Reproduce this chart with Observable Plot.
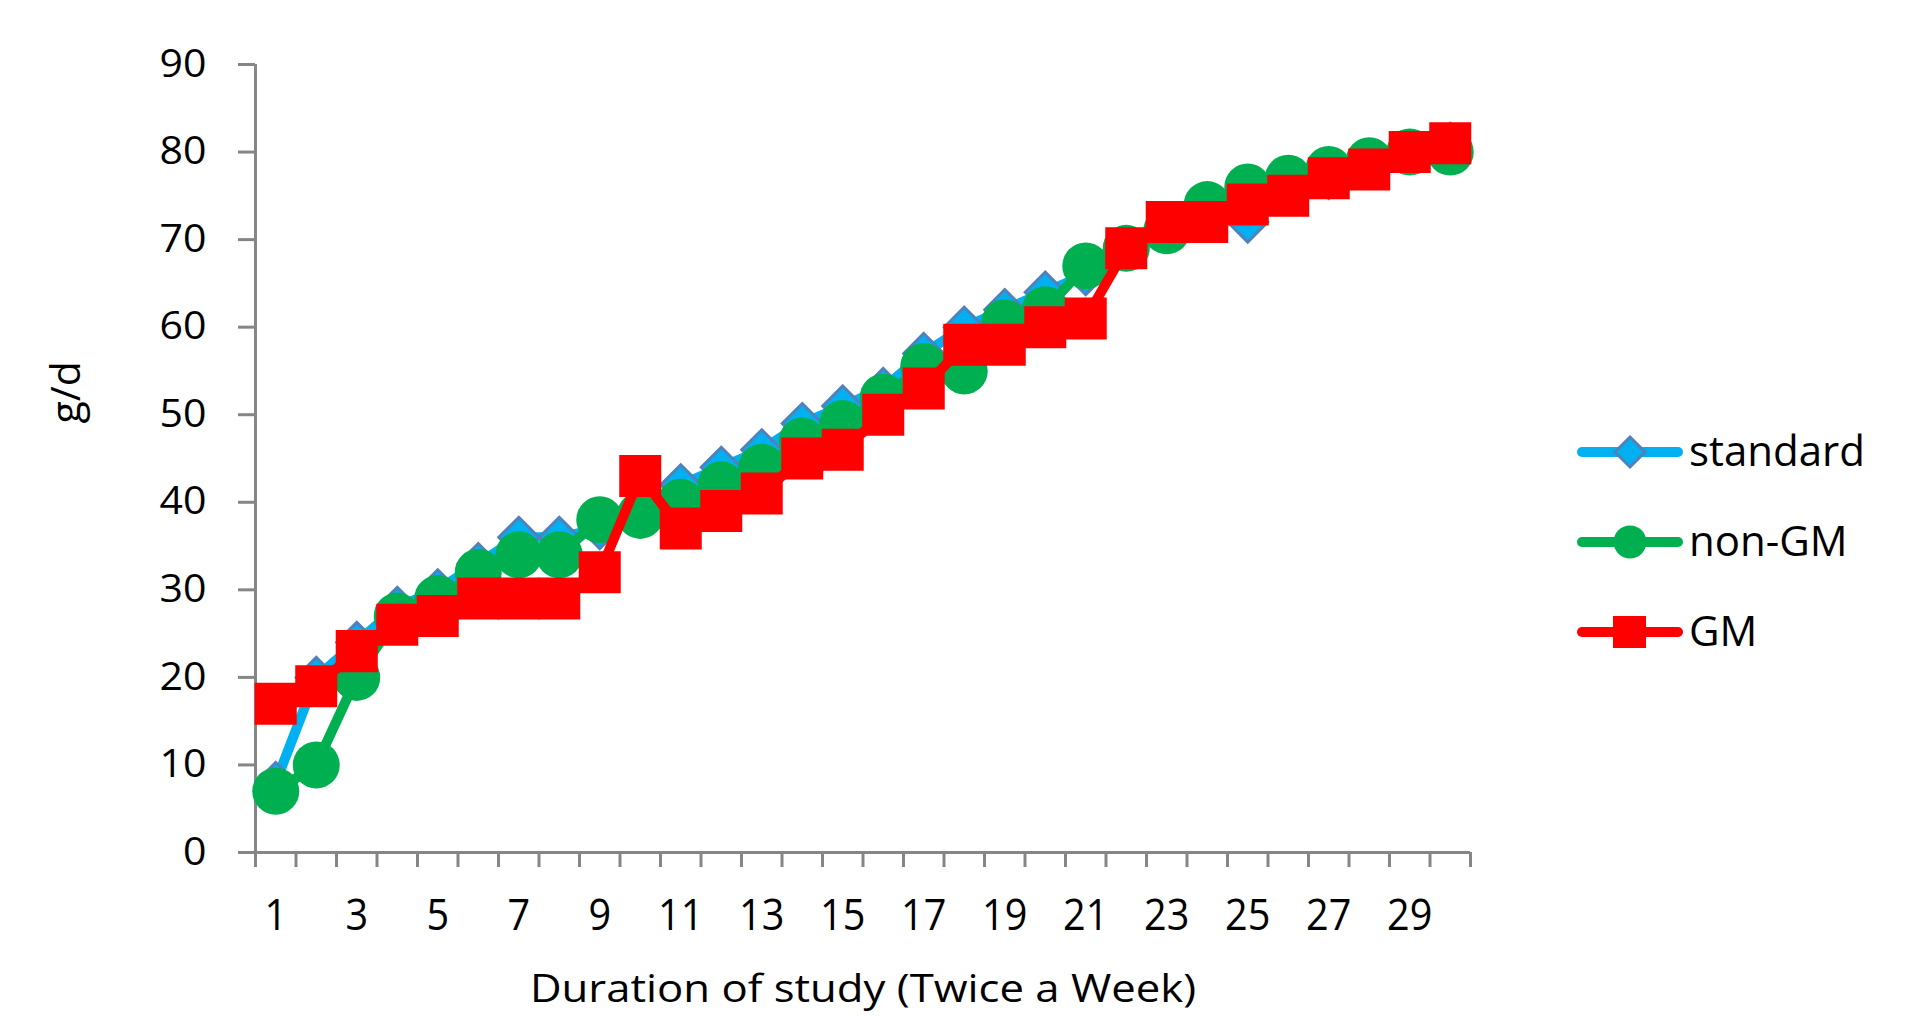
<!DOCTYPE html>
<html>
<head>
<meta charset="utf-8">
<script src="https://cdn.jsdelivr.net/npm/d3@7"></script>
<script src="https://cdn.jsdelivr.net/npm/@observablehq/plot@0.6"></script>
<style>
  html, body { margin: 0; padding: 0; background: #fff; }
  #wrap { position: relative; width: 1913px; height: 1022px; font-family: "Open Sans", sans-serif; }
  #legend { position: absolute; left: 1570px; top: 422px; }
  .row { position: absolute; left: 0; width: 340px; height: 60px; }
  .row svg { position: absolute; left: 0; top: 0; }
  .row span { position: absolute; left: 119px; top: 30px; transform: translateY(-54%); font-size: 42px; line-height: 1; color: #000; white-space: nowrap; }
</style>
</head>
<body>
<div id="wrap"><div id="chart"></div><div id="legend"></div></div>
<script>
const days = d3.range(1, 31);
const standard = [8, 20, 24, 28, 30, 33, 36, 36, 37, 39, 42, 44, 46, 49, 51, 53, 57, 60, 62, 64, 66, 69, 71, 73, 72, 76, 77, 79, 80, 81];
const nonGM    = [7, 10, 20, 27, 29, 32, 34, 34, 38, 38.5, 40, 42, 44, 47, 49, 52, 55.5, 55, 60.5, 62, 67, 69, 71, 74, 76, 77, 78, 79, 80, 80];
const GM       = [17, 19, 23, 26, 27, 29, 29, 29, 32, 43, 37, 39, 41, 45, 46, 50, 53, 58, 58, 60, 61, 69, 72, 72, 74, 75, 77, 78, 80, 81];
const yTicks = d3.range(0, 91, 10);
const xLabels = d3.range(1, 30, 2);
const xBounds = d3.range(0.5, 31, 1);
const seriesNames = ["standard", "non-GM", "GM"];
const xTitle = "Duration of study (Twice a Week)";
const yTitle = "g/d";

const toRows = (vals) => days.map((d, i) => ({day: d, value: vals[i]}));
const sStd = toRows(standard), sNon = toRows(nonGM), sGM = toRows(GM);

const axisGrey = "#868686";
const cStd = "#00B0F0", cStdEdge = "#4F81BD", cNon = "#00B050", cGM = "#FF0000";
const font = "Open Sans, sans-serif";

const chart = Plot.plot({
  width: 1913,
  height: 1022,
  marginLeft: 255,
  marginRight: 443,
  marginTop: 64,
  marginBottom: 170,
  style: {fontFamily: font, fontSize: "36px", color: "#000", background: "#fff", overflow: "visible"},
  x: {type: "linear", domain: [0.5, 30.5]},
  y: {domain: [0, 90]},
  marks: [
    Plot.axisY({ticks: yTicks, tickSize: 17, tickPadding: 32, stroke: axisGrey, strokeWidth: 3, label: null, fontSize: 38, fill: "#000"}),
    Plot.axisX({ticks: xBounds, tickSize: 15, tickFormat: () => "", stroke: axisGrey, strokeWidth: 3, label: null}),
    Plot.axisX({ticks: xLabels, tickSize: 0, tickPadding: 46, tickFormat: d3.format("d"), label: null, fontSize: 44, fill: "#000"}),
    Plot.ruleX([0.5], {stroke: axisGrey, strokeWidth: 3}),
    Plot.ruleY([0], {stroke: axisGrey, strokeWidth: 3}),
    Plot.text([xTitle], {frameAnchor: "bottom", dy: 137, lineAnchor: "middle", fontSize: 39, fill: "#000"}),
    Plot.text([yTitle], {frameAnchor: "left", dx: -189, dy: -35, rotate: -90, fontSize: 41, fill: "#000"}),
    // standard
    Plot.line(sStd, {x: "day", y: "value", stroke: cStd, strokeWidth: 10, strokeLinecap: "round", strokeLinejoin: "round"}),
    Plot.dot(sStd, {x: "day", y: "value", symbol: "diamond2", r: 18, fill: cStd, stroke: cStdEdge, strokeWidth: 3}),
    // non-GM
    Plot.line(sNon, {x: "day", y: "value", stroke: cNon, strokeWidth: 10, strokeLinecap: "round", strokeLinejoin: "round"}),
    Plot.dot(sNon, {x: "day", y: "value", symbol: "circle", r: 23.5, fill: cNon, stroke: "none"}),
    // GM
    Plot.line(sGM, {x: "day", y: "value", stroke: cGM, strokeWidth: 10, strokeLinecap: "round", strokeLinejoin: "round"}),
    Plot.dot(sGM, {x: "day", y: "value", symbol: "square", r: 23.7, fill: cGM, stroke: "none"})
  ]
});

// horizontal stretch of text glyphs around their anchor point
function stretch(el, s) {
  const t = el.getAttribute("transform");
  if (t) {
    el.setAttribute("transform", t + ` scale(${s},1)`);
  } else {
    const x = +el.getAttribute("x") || 0, y = +el.getAttribute("y") || 0;
    el.setAttribute("transform", `translate(${x},${y}) scale(${s},1) translate(${-x},${-y})`);
  }
}
chart.querySelectorAll('g[aria-label="y-axis tick label"] text').forEach(el => stretch(el, 1.08));
chart.querySelectorAll('g[aria-label="x-axis tick label"] text').forEach(el => stretch(el, 0.9));
chart.querySelectorAll('text').forEach(el => { if (el.textContent === xTitle) stretch(el, 1.12); });
document.getElementById("chart").appendChild(chart);

// legend
const legend = document.getElementById("legend");
const markers = [
  `<polygon points="60,15 75,30 60,45 45,30" fill="${cStd}" stroke="${cStdEdge}" stroke-width="3"/>`,
  `<circle cx="60" cy="30" r="16.5" fill="${cNon}"/>`,
  `<rect x="43" y="14" width="33" height="32" fill="${cGM}"/>`
];
const lineColors = [cStd, cNon, cGM];
seriesNames.forEach((name, i) => {
  const row = document.createElement("div");
  row.className = "row";
  row.style.top = (i * 90) + "px";
  row.innerHTML = `<svg width="120" height="60"><line x1="12" y1="30" x2="108" y2="30" stroke="${lineColors[i]}" stroke-width="10" stroke-linecap="round"/>${markers[i]}</svg><span>${name}</span>`;
  legend.appendChild(row);
});
</script>
</body>
</html>
